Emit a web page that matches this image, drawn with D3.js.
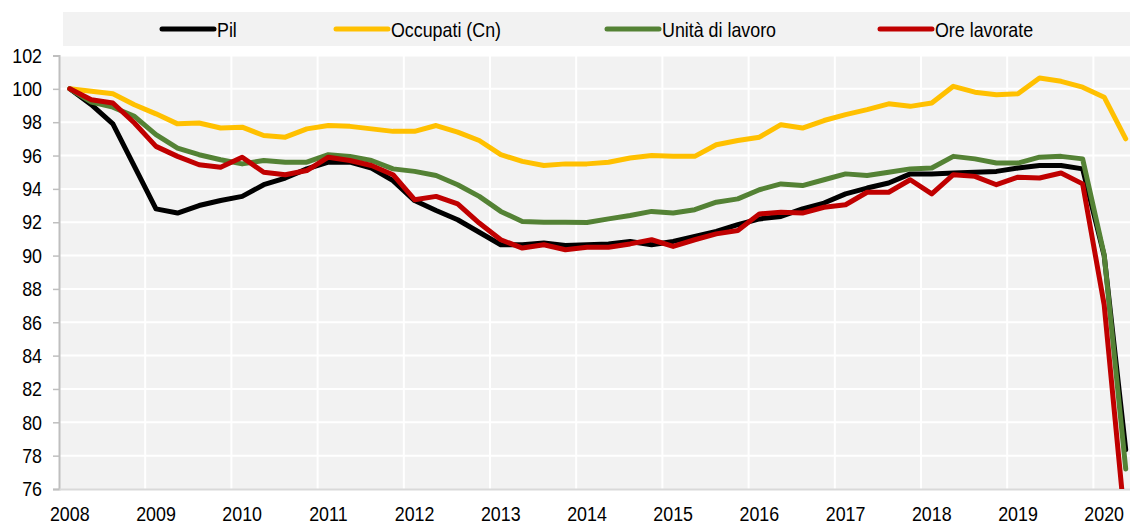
<!DOCTYPE html>
<html><head><meta charset="utf-8">
<script src="https://cdn.jsdelivr.net/npm/d3@7"></script>
<style>
html,body{margin:0;padding:0;background:#fff;overflow:hidden}
text{font-family:"Liberation Sans",Arial,sans-serif;}
</style></head>
<body><svg id="c" width="1130" height="526"></svg>
<script>
const years = ["2008","2009","2010","2011","2012","2013","2014","2015","2016","2017","2018","2019","2020"];
const quarters = d3.range(50); // 2008Q1 .. 2020Q2
const yTicks = [76,78,80,82,84,86,88,90,92,94,96,98,100,102];
const seriesNames = ["Pil","Occupati (Cn)","Unità di lavoro","Ore lavorate"];
const seriesColors = ["#000000","#FFC000","#548235","#C00000"];

const pil = [100,99.05,97.9,95.35,92.8,92.55,93.0,93.3,93.55,94.25,
  94.65,95.2,95.6,95.6,95.25,94.5,93.3,92.7,92.15,91.4,
  90.65,90.65,90.75,90.6,90.65,90.7,90.85,90.65,90.85,91.15,
  91.45,91.85,92.2,92.35,92.8,93.15,93.7,94.05,94.35,94.9,
  94.9,94.95,95.0,95.05,95.25,95.4,95.4,95.2,90.0,78.35];
const occupati = [100,99.85,99.7,99.05,98.5,97.9,97.95,97.65,97.7,97.2,
  97.1,97.6,97.8,97.75,97.6,97.45,97.45,97.8,97.4,96.9,
  96.05,95.65,95.4,95.5,95.5,95.6,95.85,96.0,95.95,95.95,
  96.65,96.9,97.1,97.85,97.65,98.1,98.45,98.75,99.1,98.95,
  99.15,100.15,99.8,99.65,99.7,100.65,100.45,100.1,99.5,97.0];
const unita = [100,99.2,98.9,98.35,97.25,96.45,96.05,95.75,95.5,95.7,
  95.6,95.6,96.05,95.95,95.7,95.2,95.05,94.8,94.25,93.55,
  92.65,92.05,92.0,92.0,91.98,92.2,92.4,92.65,92.55,92.75,
  93.2,93.4,93.95,94.3,94.2,94.55,94.9,94.8,95.0,95.2,
  95.25,95.95,95.8,95.55,95.55,95.9,95.95,95.8,90.05,77.2];
const ore = [100,99.35,99.15,97.95,96.55,95.95,95.45,95.3,95.9,95.0,
  94.85,95.1,95.9,95.7,95.4,94.85,93.35,93.55,93.1,91.95,
  90.95,90.45,90.65,90.35,90.5,90.5,90.7,90.95,90.55,90.95,
  91.3,91.5,92.5,92.6,92.55,92.9,93.05,93.8,93.8,94.55,
  93.7,94.85,94.75,94.25,94.7,94.65,94.95,94.3,87.05,73.5];
const allSeries = [pil, occupati, unita, ore];

const SX = 0.85; // horizontal condensation of the font
const svg = d3.select("#c");
const L = 59, R = 1136.5, T = 55.5, B = 489;
const x = d3.scaleBand().domain(quarters).range([L, R]);
const xc = i => x(i) + x.bandwidth()/2;
const y = d3.scaleLinear().domain([76,102]).range([B, T]);

// legend
svg.append("rect").attr("x",63).attr("y",12).attr("width",1080).attr("height",34).attr("fill","#f2f2f2");
const legX = [162, 336, 607, 880];
seriesNames.forEach((n,k)=>{
  svg.append("line").attr("x1",legX[k]).attr("x2",legX[k]+52).attr("y1",29).attr("y2",29)
    .attr("stroke",seriesColors[k]).attr("stroke-width",5).attr("stroke-linecap","round");
  svg.append("g").attr("transform",`translate(${legX[k]+55},36.5) scale(${SX},1)`)
    .append("text").attr("font-size",21).attr("fill","#000").text(n);
});

// plot background
svg.append("rect").attr("x",L).attr("y",T).attr("width",R-L).attr("height",B-T).attr("fill","#f2f2f2");

// horizontal gridlines
svg.append("g").selectAll("line").data(yTicks.filter(v=>v>76)).join("line")
  .attr("x1",L).attr("x2",R).attr("y1",d=>y(d)).attr("y2",d=>y(d))
  .attr("stroke","#ffffff").attr("stroke-width",2);
// vertical gridlines at year boundaries
svg.append("g").selectAll("line").data(quarters.filter(i=>i%4===0 && i>0)).join("line")
  .attr("x1",d=>x(d)).attr("x2",d=>x(d)).attr("y1",T).attr("y2",B)
  .attr("stroke","#ffffff").attr("stroke-width",2);

// y axis
const ya = svg.append("g").attr("transform",`translate(${L},0)`)
  .call(d3.axisLeft(y).tickValues(yTicks).tickSize(6).tickPadding(11).tickFormat(d3.format("d")));
ya.select(".domain").attr("stroke","#bfbfbf").attr("stroke-width",2);
ya.selectAll(".tick line").attr("stroke","#bfbfbf").attr("stroke-width",1.5);
ya.selectAll("text").attr("font-size",21).attr("fill","#000").attr("font-family",null)
  .attr("x",-17/SX).attr("transform",`scale(${SX},1)`);

// x axis
const xa = svg.append("g").attr("transform",`translate(0,${B})`)
  .call(d3.axisBottom(x).tickValues(quarters.filter(i=>i%4===0)).tickSize(0).tickPadding(17)
    .tickFormat(i=>years[i/4]));
xa.select(".domain").attr("stroke","#d9d9d9").attr("stroke-width",2);
xa.selectAll("text").attr("font-size",21).attr("fill","#000").attr("font-family",null)
  .attr("transform",`scale(${SX},1)`);

// clip
svg.append("clipPath").attr("id","clip").append("rect").attr("x",L).attr("y",T-5).attr("width",R-L).attr("height",B-T+5);

const line = d3.line().x((d,i)=>xc(i)).y(d=>y(d));
const lg = svg.append("g").attr("clip-path","url(#clip)");
allSeries.forEach((s,k)=>{
  lg.append("path").datum(s).attr("d",line).attr("fill","none")
    .attr("stroke",seriesColors[k]).attr("stroke-width",5)
    .attr("stroke-linejoin","round").attr("stroke-linecap","round");
});
</script></body></html>
